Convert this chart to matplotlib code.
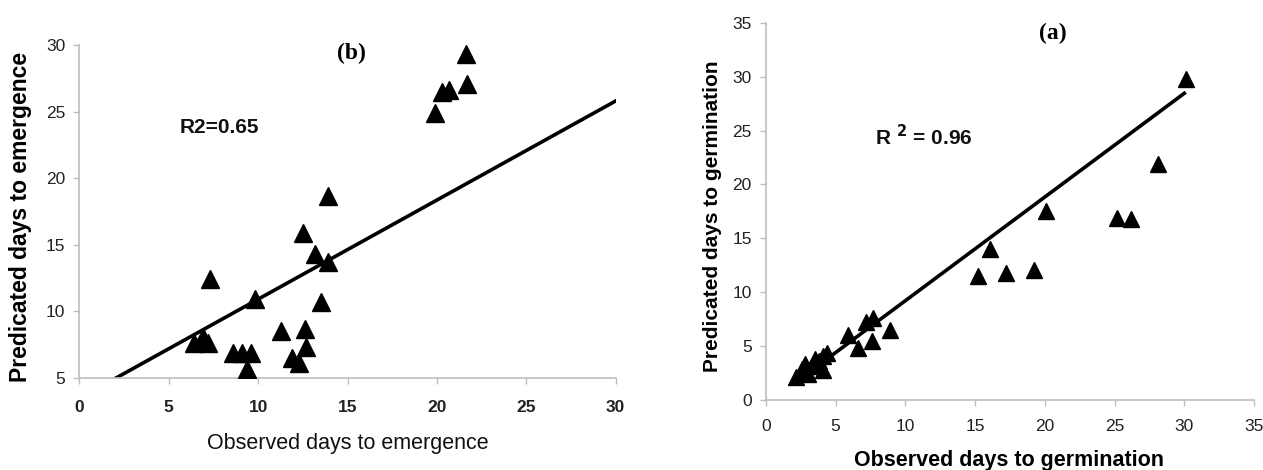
import numpy as np
import matplotlib
matplotlib.use("Agg")
import matplotlib.pyplot as plt

plt.rcParams['font.family'] = ['Liberation Sans', 'DejaVu Sans']

# (b) emergence: observed vs predicated days
obs_b = [21.6, 21.7, 20.3, 20.7, 19.9, 13.9, 12.5, 13.2, 13.9, 7.3, 9.8, 13.5,
         11.3, 12.6, 12.7, 11.9, 12.3, 6.4, 6.9, 7.2, 6.8, 8.6, 9.1, 9.6, 9.4]
pred_b = [29.3, 27.1, 26.5, 26.6, 24.9, 18.7, 15.9, 14.3, 13.7, 12.4, 10.9, 10.7,
          8.5, 8.7, 7.3, 6.5, 6.1, 7.6, 8.1, 7.6, 7.7, 6.9, 6.9, 6.9, 5.7]
fit_b_x = [2.05, 30.0]
fit_b_y = [5.0, 25.8]

# (a) germination: observed vs predicated days
obs_a = [30.1, 28.1, 20.1, 25.2, 26.2, 16.1, 15.2, 17.2, 19.2, 7.7, 7.2, 8.9,
         5.9, 7.6, 6.6, 4.4, 4.1, 3.5, 4.1, 2.8, 2.5, 3.0, 2.2, 2.6, 3.3, 3.8]
pred_a = [29.8, 21.9, 17.5, 16.9, 16.8, 14.0, 11.5, 11.8, 12.1, 7.6, 7.2, 6.5,
          6.0, 5.5, 4.8, 4.4, 4.1, 3.8, 2.8, 3.3, 2.5, 2.4, 2.1, 2.9, 3.2, 3.6]
fit_a_x = [2.2, 30.0]
fit_a_y = [1.7, 28.45]

fig = plt.figure(figsize=(12.63, 4.70), dpi=100)
ax_b = fig.add_axes([0.0628, 0.1957, 0.4247, 0.7086])
ax_a = fig.add_axes([0.6063, 0.1489, 0.3866, 0.8028])

grey = '#bdbdbd'
for ax in (ax_b, ax_a):
    for s in ('top', 'right'):
        ax.spines[s].set_visible(False)
    for s in ('left', 'bottom'):
        ax.spines[s].set_color(grey)
        ax.spines[s].set_linewidth(1.2)
    ax.tick_params(length=4, width=1.0, color=grey, labelcolor='#222222',
                   labelsize=12.5, pad=6)

# panel (b)
ax_b.plot(fit_b_x, fit_b_y, color='black', lw=2.6, zorder=2)
ax_b.plot(obs_b, pred_b, '^', color='black', ms=13, zorder=3)
ax_b.set_xlim(0, 30)
ax_b.set_ylim(5, 30)
ax_b.set_xticks(np.arange(0, 31, 5))
ax_b.set_yticks(np.arange(5, 31, 5))
for lab in ax_b.get_xticklabels():
    lab.set_fontweight('bold')
ax_b.tick_params(axis='x', pad=12)
ax_b.set_xlabel('Observed days to emergence', fontsize=15.5, color='#111111')
ax_b.xaxis.set_label_coords(0.5, -0.198)
ax_b.xaxis.label.set_va('center')
ax_b.set_ylabel('Predicated days to emergence', fontsize=16.5, fontweight='bold')
ax_b.yaxis.set_label_coords(-0.11, 0.485)
ax_b.yaxis.label.set_va('center')
ax_b.text(15.2, 29.4, '(b)', fontsize=17, fontweight='bold',
          family='Liberation Serif', ha='center', va='center')
ax_b.text(5.6, 23.8, 'R2=0.65', fontsize=15, fontweight='bold',
          ha='left', va='center', color='#111111')

# panel (a)
ax_a.plot(fit_a_x, fit_a_y, color='black', lw=2.6, zorder=2)
ax_a.plot(obs_a, pred_a, '^', color='black', ms=12, zorder=3)
ax_a.set_xlim(0, 35)
ax_a.set_ylim(0, 35)
ax_a.set_xticks(np.arange(0, 36, 5))
ax_a.set_yticks(np.arange(0, 36, 5))
ax_a.tick_params(axis='x', pad=10)
ax_a.set_xlabel('Observed days to germination', fontsize=15.5, fontweight='bold')
ax_a.xaxis.set_label_coords(0.498, -0.159)
ax_a.xaxis.label.set_va('center')
ax_a.set_ylabel('Predicated days to germination', fontsize=15, fontweight='bold')
ax_a.yaxis.set_label_coords(-0.11, 0.488)
ax_a.yaxis.label.set_va('center')
ax_a.text(20.6, 34.0, '(a)', fontsize=17, fontweight='bold',
          family='Liberation Serif', ha='center', va='center')
ax_a.text(7.8, 24.4, r'R $^{\mathbf{2}}$ = 0.96', fontsize=15, fontweight='bold',
          ha='left', va='center', color='#111111')

fig.savefig('out.png', dpi=100)
